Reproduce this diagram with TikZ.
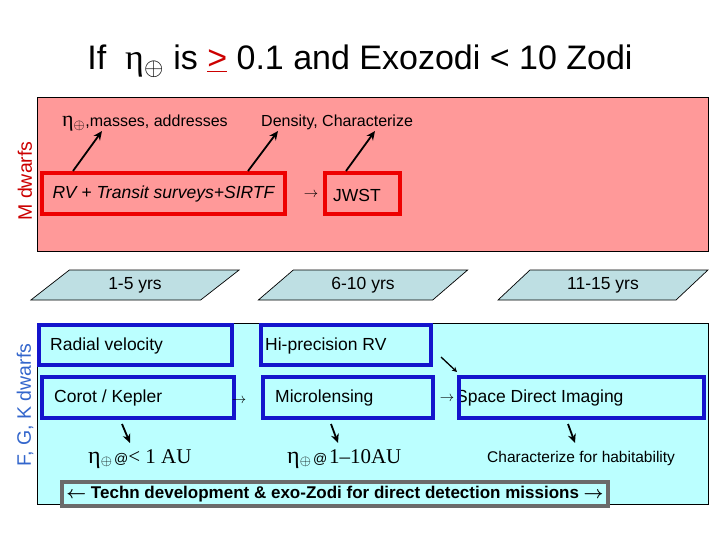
\documentclass[tikz,border=0pt]{standalone}
\usepackage{fontspec}
\setmainfont{Liberation Sans}
\newfontfamily\serif{Liberation Serif}
\usetikzlibrary{shapes.geometric, arrows.meta, calc}

\definecolor{pinkfill}{HTML}{FF9999}
\definecolor{redline}{HTML}{EE0000}
\definecolor{cyanfill}{HTML}{BBFFFF}
\definecolor{parafill}{HTML}{BEDFE3}
\definecolor{blueline}{HTML}{1414CC}
\definecolor{grayline}{HTML}{6B6B6B}
\definecolor{mred}{HTML}{CC0000}
\definecolor{fgkblue}{HTML}{3366CC}

\newcommand\fsz[1]{\fontsize{#1}{#1}\selectfont}
% eta with oplus subscript: #1 = eta size, #2 = size for the subscript's math
\newcommand\etaE[2]{{\serif\fsz{#1}η}{\fsz{#2}$_{\oplus}$}}

\begin{document}
\begin{tikzpicture}[x=1pt,y=-1pt,
  panel/.style={draw=black, line width=0.9pt, minimum width=671pt, anchor=north west, inner sep=0pt},
  redbox/.style={draw=redline, line width=3.8pt, inner sep=0pt},
  bluebox/.style={draw=blueline, line width=3.8pt, inner sep=0pt},
  graybox/.style={draw=grayline, line width=3.8pt, inner sep=0pt},
  para/.style={trapezium, trapezium left angle=45, trapezium right angle=135,
    trapezium stretches=true, minimum width=210pt, minimum height=30pt,
    draw=black, line width=0.7pt, fill=parafill, inner sep=0pt, font=\fsz{17.5}},
  txt/.style={inner sep=0pt, anchor=west},
  blk/.style={-{Stealth[length=9pt,width=8pt]}, line width=1.8pt, black},
  thin/.style={-{Stealth[length=5pt,width=5pt]}, line width=1.3pt, black},
  side/.style={rotate=90, inner sep=0pt, font=\fsz{19.5}}
]
\useasboundingbox (0,0) rectangle (720,540);

% title
\node[anchor=base, inner sep=0pt] (title) at (360,70)
  {\fsz{34}If\ \ \etaE{36}{34} is \textcolor{mred}{\underline{>}} 0.1 and Exozodi < 10 Zodi};

% M dwarfs panel
\node[panel, fill=pinkfill, minimum height=154pt] (mpanel) at (37,97) {};
\node[side, text=mred] (mlab) at (25,181) {M dwarfs};

\node[txt] (lab1) at (62,123) {\etaE{22}{20}\fsz{16},masses, addresses};
\node[txt] (lab2) at (261,122) {\fsz{16}Density, Characterize};

\node[redbox, minimum width=243pt, minimum height=41pt] (rv) at (163.5,193.5)
  {\fsz{17.5}\itshape RV + Transit surveys+SIRTF};
\node[redbox, minimum width=75pt, minimum height=41pt] (jwst) at (362.5,193.5) {};
\node[txt] (jwsttxt) at (333,195) {\fsz{17.5}JWST};
\node[inner sep=0pt] (arr1) at (311,195) {\fsz{15}$\rightarrow$};

\coordinate (p1s) at (73,171);  \coordinate (p1e) at (102,131);
\coordinate (p2s) at (248,171); \coordinate (p2e) at (278,131);
\coordinate (p3s) at (346,171); \coordinate (p3e) at (375,131);
\draw[blk] (p1s) -- (p1e);
\draw[blk] (p2s) -- (p2e);
\draw[blk] (p3s) -- (p3e);

% time line
\node[para] (t1) at (135,285) {1-5 yrs};
\node[para] (t2) at (363,285) {6-10 yrs};
\node[para] (t3) at (603,285) {11-15 yrs};

% FGK panel
\node[panel, fill=cyanfill, minimum height=181pt] (fpanel) at (37,323) {};
\node[side, text=fgkblue] (flab) at (25,405) {F, G, K dwarfs};

\node[bluebox, minimum width=193pt, minimum height=40pt] (radial) at (135.5,345) {};
\node[txt] (radialtxt) at (50,346) {\fsz{17.5}Radial velocity};
\node[bluebox, minimum width=170pt, minimum height=40pt] (hiprec) at (346,345) {};
\node[txt] (hiprectxt) at (265,346) {\fsz{17.5}Hi-precision RV};

\node[bluebox, minimum width=192pt, minimum height=41pt] (corot) at (138,397.5) {};
\node[txt] (corottxt) at (54,398) {\fsz{17.5}Corot / Kepler};
\node[bluebox, minimum width=170pt, minimum height=41pt] (micro) at (348,397.5) {};
\node[txt] (microtxt) at (275,398) {\fsz{17.5}Microlensing};
\node[txt] (spacetxt) at (456,398) {\fsz{17.5}Space Direct Imaging};
\node[bluebox, minimum width=245pt, minimum height=41pt] (space) at (581.5,397.5) {};

\node[inner sep=0pt] (arr2) at (239,401) {\fsz{15}$\rightarrow$};
\node[inner sep=0pt] (arr3) at (447,399) {\fsz{15}$\rightarrow$};

\coordinate (hs) at (441,357); \coordinate (he) at (457,372);
\draw[thin] (hs) -- (he);

\coordinate (d1s) at (122,424); \coordinate (d1e) at (130,443);
\coordinate (d2s) at (331,424); \coordinate (d2e) at (338,443);
\coordinate (d3s) at (568,424); \coordinate (d3e) at (575,443);
\draw[blk] (d1s) -- (d1e);
\draw[blk] (d2s) -- (d2e);
\draw[blk] (d3s) -- (d3e);

\node[inner sep=0pt, anchor=base west] (res1) at (88,463)
  {\etaE{24}{19}\,{\fsz{14}@}{\serif\fsz{21}< 1 AU}};
\node[inner sep=0pt, anchor=base west] (res2) at (287,463)
  {\etaE{24}{19}\,{\fsz{14}@}\,{\serif\fsz{21}1\textendash10AU}};
\node[inner sep=0pt, anchor=base west] (res3) at (487,462)
  {\fsz{15.5}Characterize for habitability};

\node[graybox, minimum width=546pt, minimum height=24pt] (tech) at (335,494)
  {\fsz{17}\bfseries {\boldmath$\leftarrow$} Techn development \& exo-Zodi for direct detection missions {\boldmath$\rightarrow$}};
\end{tikzpicture}
\end{document}
